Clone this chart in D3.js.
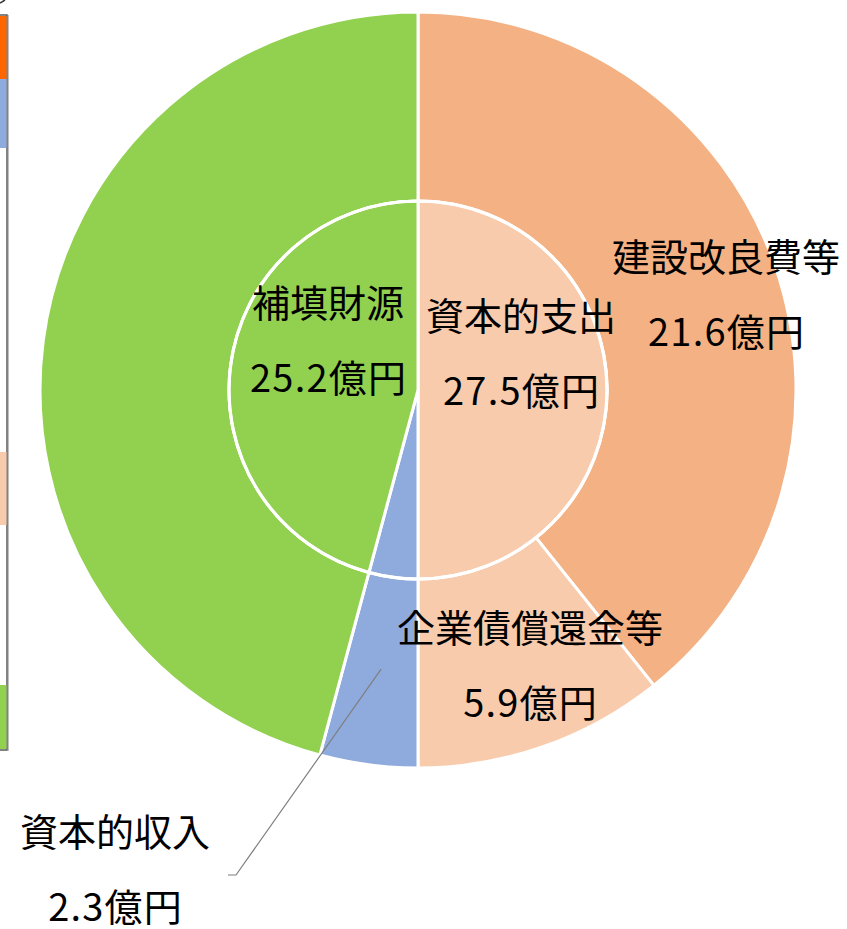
<!DOCTYPE html>
<html>
<head>
<meta charset="utf-8">
<script src="https://cdn.jsdelivr.net/npm/d3@7"></script>
<style>
  html, body { margin: 0; padding: 0; background: #fff; }
  svg { display: block; }
  text { font-family: "Noto Sans CJK JP", "Noto Sans", sans-serif; }
</style>
</head>
<body>
<svg id="chart" width="847" height="929"></svg>
<script>
// ---- data ----
const innerCategories = ["資本的支出", "資本的収入", "補填財源"];
const innerValues = [27.5, 2.3, 25.2];
const outerCategories = ["建設改良費等", "企業債償還金等", "資本的収入", "補填財源"];
const outerValues = [21.6, 5.9, 2.3, 25.2];
const unitLabel = "億円";

// ---- styles ----
const colorMap = {
  "建設改良費等": "#F4B183",
  "企業債償還金等": "#F8CBAD",
  "資本的支出": "#F8CBAD",
  "資本的収入": "#8FAADC",
  "補填財源": "#92D050"
};

const svg = d3.select("#chart");
const cx = 418, cy = 390, R = 378, r = 189;

// clipped legend box at the far left edge
const legend = svg.append("g");
legend.append("rect").attr("x", -200).attr("y", 15).attr("width", 207).attr("height", 735)
  .attr("fill", "#fff").attr("stroke", "#595959").attr("stroke-width", 1.5);
const legendCells = [
  {c: "#FF6600", y0: 16, y1: 79},
  {c: "#8FAADC", y0: 79, y1: 148},
  {c: "#F8CBAD", y0: 452, y1: 525},
  {c: "#92D050", y0: 685, y1: 749}
];
legend.selectAll("rect.cell").data(legendCells).enter().append("rect")
  .attr("class", "cell").attr("x", -10).attr("width", 16.5)
  .attr("y", d => d.y0).attr("height", d => d.y1 - d.y0).attr("fill", d => d.c);
legend.append("line").attr("x1", 8.5).attr("x2", 8.5).attr("y1", 15).attr("y2", 751)
  .attr("stroke", "#bfbfbf").attr("stroke-width", 1);
svg.append("line").attr("x1", 0).attr("y1", 3).attr("x2", 5).attr("y2", 0)
  .attr("stroke", "#333").attr("stroke-width", 1.5);

const g = svg.append("g").attr("transform", `translate(${cx},${cy})`);

const pie = d3.pie().sort(null).value(d => d.v);
const outerData = pie(outerCategories.map((k, i) => ({k, v: outerValues[i]})));
const innerData = pie(innerCategories.map((k, i) => ({k, v: innerValues[i]})));

const outerArc = d3.arc().innerRadius(r).outerRadius(R);
const innerArc = d3.arc().innerRadius(0).outerRadius(r);

g.selectAll("path.outer").data(outerData).enter().append("path")
  .attr("class", "outer")
  .attr("d", outerArc)
  .attr("fill", d => colorMap[d.data.k])
  .attr("stroke", "#fff").attr("stroke-width", 3).attr("stroke-linejoin", "round");

g.selectAll("path.inner").data(innerData).enter().append("path")
  .attr("class", "inner")
  .attr("d", innerArc)
  .attr("fill", d => colorMap[d.data.k])
  .attr("stroke", "#fff").attr("stroke-width", 3).attr("stroke-linejoin", "round");

g.append("circle").attr("r", r).attr("fill", "none").attr("stroke", "#fff").attr("stroke-width", 3);

// ---- labels ----
const fs = 38, gap = 75;
// label anchor positions (layout) relative to canvas
const labelPos = {
  "補填財源": [328, 317],
  "資本的支出": [521, 330],
  "建設改良費等": [726, 271],
  "企業債償還金等": [530, 642],
  "資本的収入": [115, 846]
};
const labelItems = [
  {k: innerCategories[2], v: innerValues[2]},
  {k: innerCategories[0], v: innerValues[0]},
  {k: outerCategories[0], v: outerValues[0]},
  {k: outerCategories[1], v: outerValues[1]},
  {k: outerCategories[2], v: outerValues[2]}
];
const lg = svg.append("g");
labelItems.forEach(d => {
  const [x, y] = labelPos[d.k];
  lg.append("text").attr("x", x).attr("y", y).attr("text-anchor", "middle")
    .attr("font-size", fs).attr("fill", "#000").text(d.k);
  lg.append("text").attr("x", x + 0.6).attr("y", y + gap).attr("text-anchor", "middle")
    .attr("font-size", fs).attr("fill", "#000").attr("letter-spacing", 1.2)
    .text(d.v.toFixed(1) + unitLabel);
});

// leader line for 資本的収入 from its outer slice
const capIn = outerData[2];
const mid = (capIn.startAngle + capIn.endAngle) / 2;
const rs = R * 0.745;
const p0 = [cx + rs * Math.sin(mid), cy - rs * Math.cos(mid)];
const p1 = [236, 875], p2 = [228, 875];
svg.append("polyline")
  .attr("points", [p0, p1, p2].map(p => p.join(",")).join(" "))
  .attr("fill", "none").attr("stroke", "#7f7f7f").attr("stroke-width", 1.2);
</script>
</body>
</html>
